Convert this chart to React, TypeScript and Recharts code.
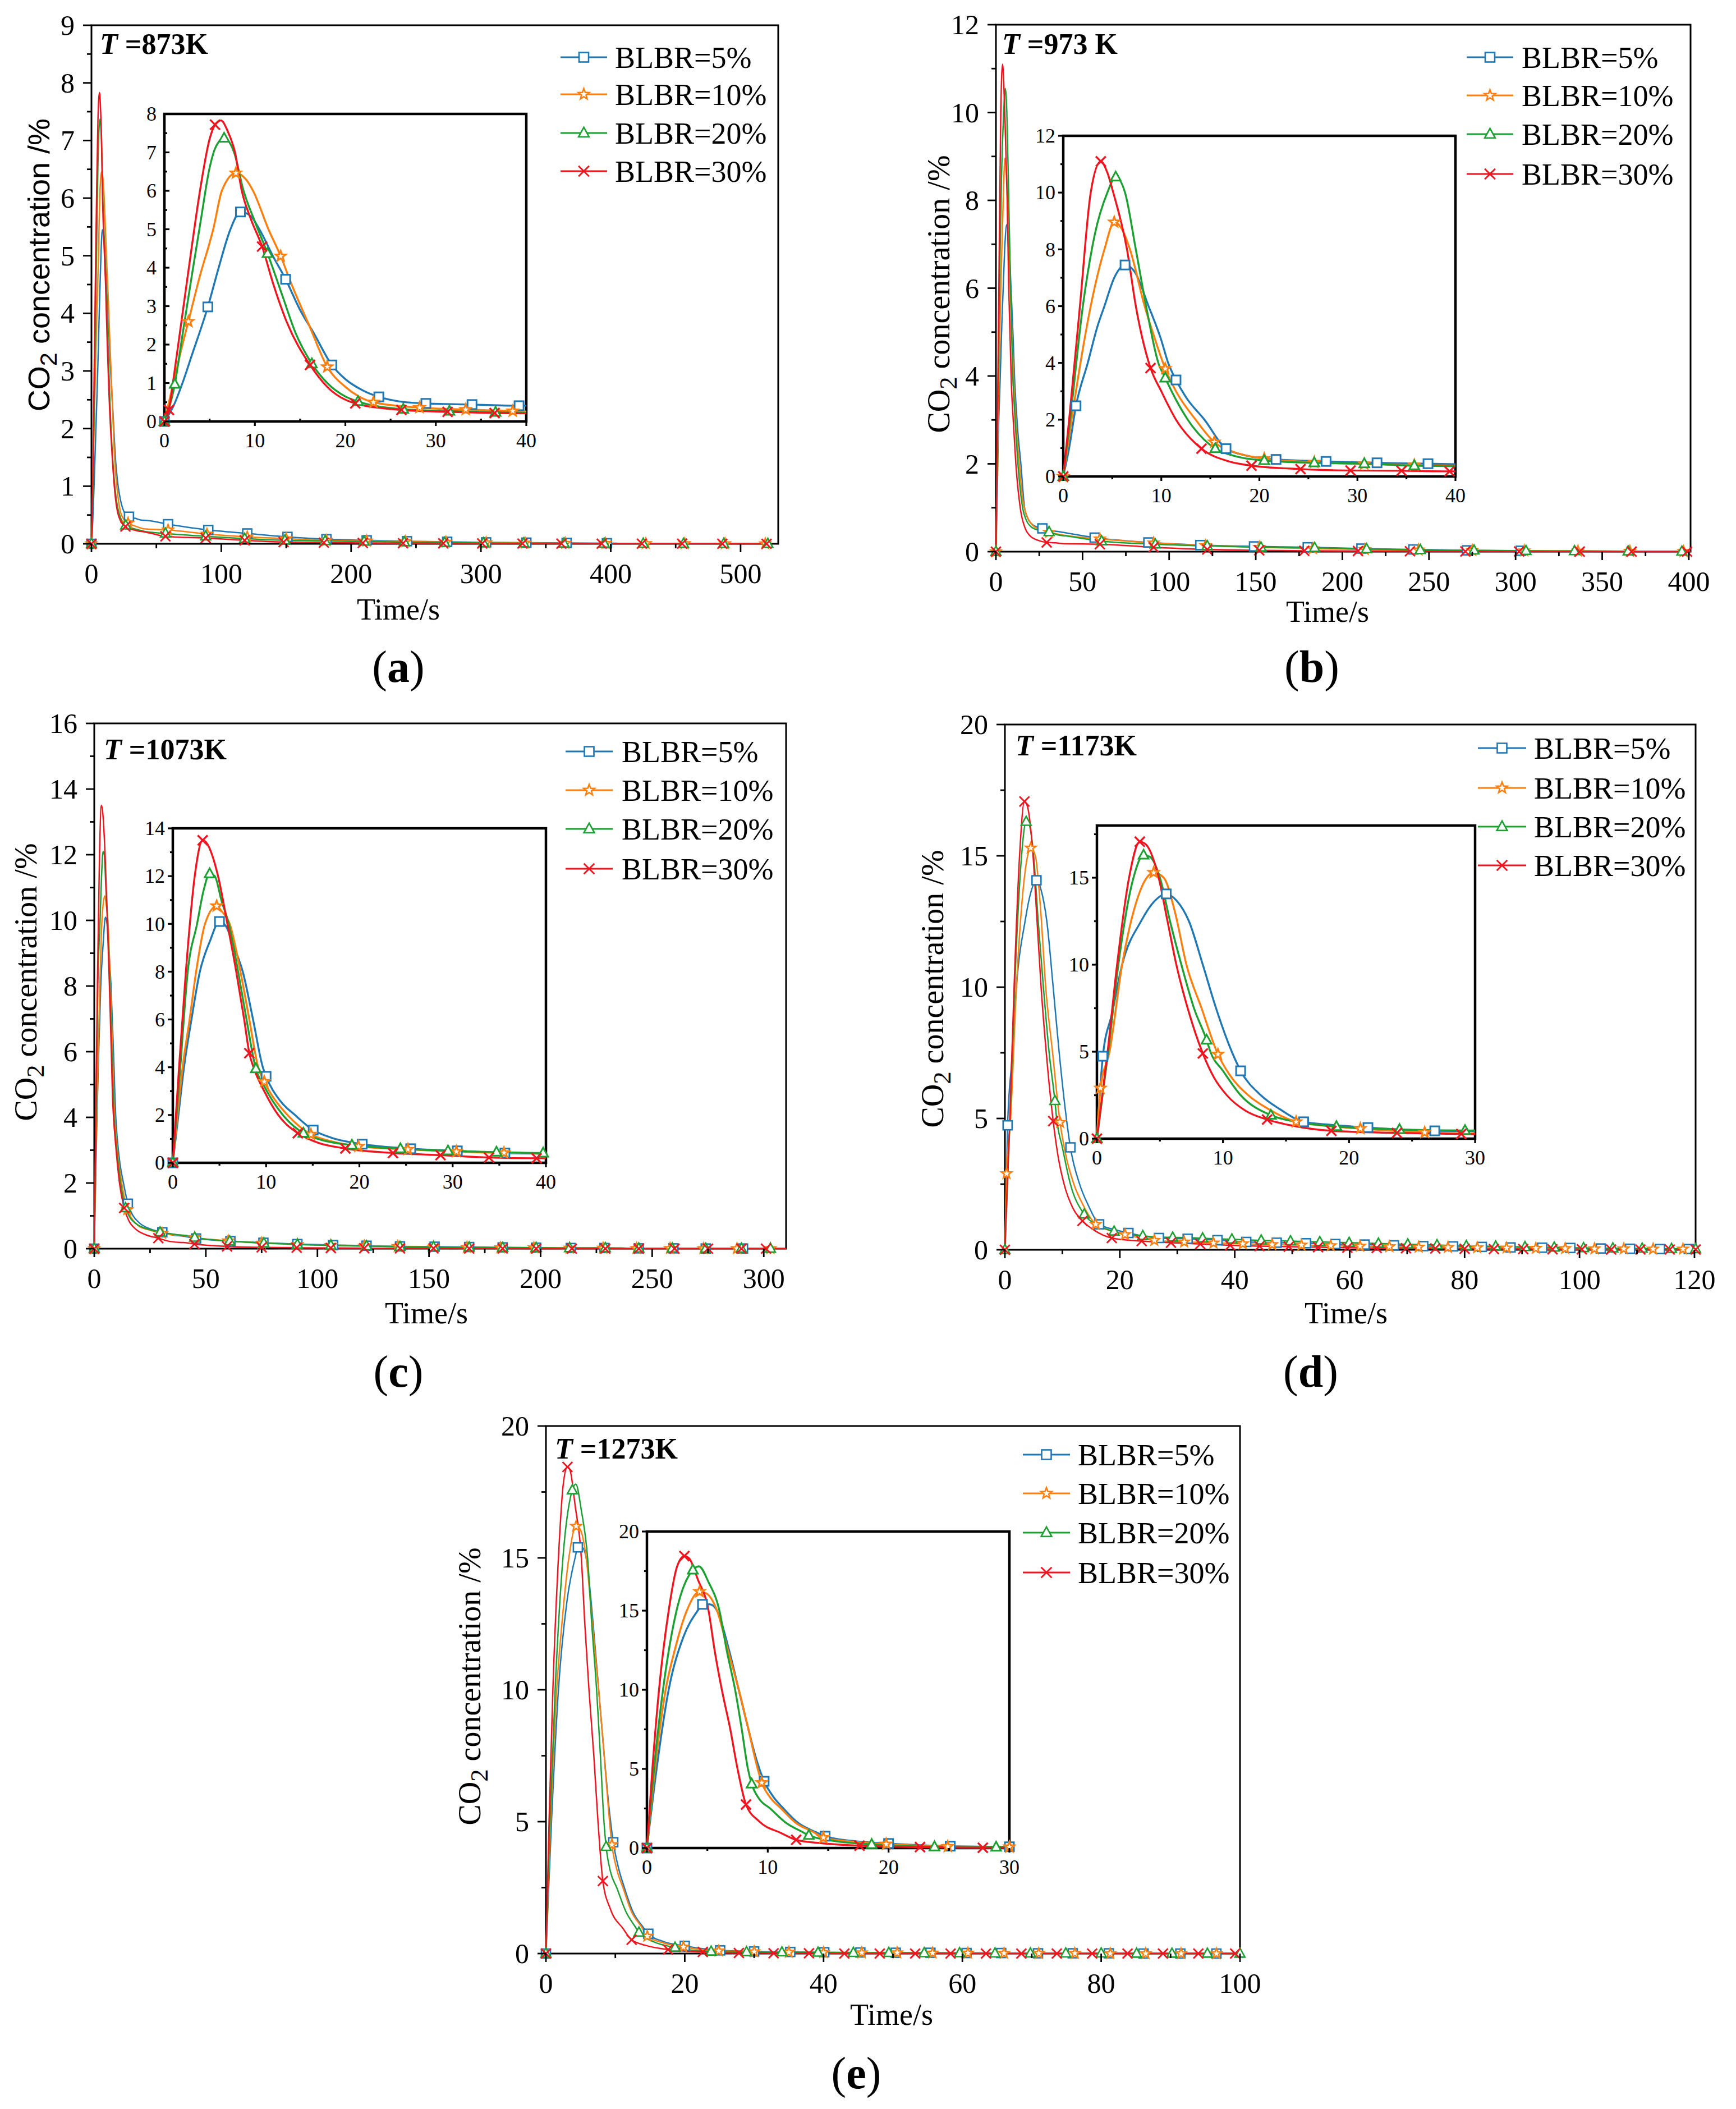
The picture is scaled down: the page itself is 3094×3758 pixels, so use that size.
import React from 'react';
import { LineChart, Line, XAxis, YAxis, ReferenceArea } from 'recharts';

type Pt = [number, number];

const SERIF = '"Liberation Serif", "Times New Roman", serif';
const SANS = '"Liberation Sans", Arial, sans-serif';

const NAMES = ['BLBR=5%', 'BLBR=10%', 'BLBR=20%', 'BLBR=30%'];
const COLORS = ['#1f77b4', '#ff7f0e', '#1ca032', '#f0141e'];
const SHAPES = ['square', 'star', 'triangle', 'cross'];

// ---- (a) T = 873 K ----
const A_5: Pt[] = [[0,0],[1,0.4],[2,1.0],[3,1.7],[4.8,2.98],[6,4.0],[7.3,5.0],[8.4,5.45],[9.5,5.35],[10.5,5.0],[12,4.3],[13.4,3.7],[15,2.9],[16.5,2.3],[18.5,1.47],[20,1.1],[22,0.8],[23.7,0.64],[26,0.52],[28.9,0.47],[34,0.44],[39.2,0.41],[40,0.41],[59,0.34],[90,0.24],[120,0.18],[151,0.12],[181,0.08],[212,0.06],[243,0.045],[274,0.035],[304,0.025],[335,0.02],[366,0.015],[397,0.01],[405,0.01]];
const A_10: Pt[] = [[0,0],[1,1.0],[2,2.0],[2.65,2.6],[4,3.85],[5,4.65],[5.4,5.0],[6.35,6.0],[7.9,6.46],[9,6.3],[9.8,6.0],[11.5,5.0],[12.85,4.3],[14,3.6],[16,2.5],[18,1.42],[20,0.9],[21.5,0.65],[23.1,0.5],[28.2,0.36],[33.3,0.31],[38.5,0.27],[40,0.26],[59,0.24],[89,0.17],[120,0.12],[150,0.09],[181,0.06],[212,0.05],[242,0.04],[273,0.03],[304,0.02],[334,0.015],[365,0.01],[396,0.008],[427,0.005],[457,0.004],[488,0.003],[519,0.002]];
const A_20: Pt[] = [[0,0],[1.15,0.97],[2,2.25],[3,3.75],[4,5.2],[5,6.6],[5.6,7.1],[6.6,7.37],[7.7,7.0],[8.75,6.0],[10,5.2],[11.4,4.37],[13,3.3],[14.5,2.3],[16.3,1.5],[18,1.0],[20,0.65],[21.4,0.52],[26.4,0.32],[31.5,0.27],[36.6,0.24],[40,0.22],[57,0.18],[88,0.13],[118,0.09],[149,0.06],[180,0.05],[210,0.04],[241,0.03],[272,0.02],[302,0.015],[333,0.01],[364,0.008],[395,0.005],[425,0.004],[456,0.003],[487,0.002],[521,0.001]];
const A_30: Pt[] = [[0,0],[0.5,0.3],[1,1.1],[2,2.8],[3,4.5],[4,6.1],[5,7.35],[5.6,7.72],[6.25,7.83],[7,7.55],[7.8,7.0],[8.55,6.0],[9.5,5.3],[10.8,4.55],[12,3.6],[13.5,2.6],[16.1,1.47],[18,0.9],[21.1,0.47],[26.2,0.3],[31.3,0.25],[36.5,0.22],[40,0.21],[57,0.13],[88,0.1],[118,0.06],[148,0.03],[179,0.02],[209,0.015],[240,0.01],[271,0.008],[301,0.006],[332,0.005],[362,0.004],[393,0.003],[424,0.002],[455,0.002],[486,0.001],[520,0]];
const A_INSET_MARKS = [
  [0,4.8,8.4,13.4,18.5,23.7,28.9,34,39.2],
  [2.65,7.9,12.85,18,23.1,28.2,33.3,38.5],
  [0,1.15,6.6,11.4,16.3,21.4,26.4,31.5,36.6],
  [0,0.5,5.6,10.8,16.1,21.1,26.2,31.3,36.5],
];
const A_MAIN_MARKS = [
  [0,28.9,59,90,120,151,181,212,243,274,304,335,366,397],
  [0,28.2,59,89,120,150,181,212,242,273,304,334,365,396,427,457,488,519],
  [0,26.4,57,88,118,149,180,210,241,272,302,333,364,395,425,456,487,521],
  [0,26.2,57,88,118,148,179,209,240,271,301,332,362,393,424,455,486,520],
];
const A_X = [0,100,200,300,400,500];
const A_XM = [50,150,250,350,450];
const A_Y = [0,1,2,3,4,5,6,7,8,9];
const A_YM = [0.5,1.5,2.5,3.5,4.5,5.5,6.5,7.5,8.5];
const A_IY = [0,1,2,3,4,5,6,7,8];
const A_IYM = [0.5,1.5,2.5,3.5,4.5,5.5,6.5,7.5];

// ---- (b) T = 973 K ----
const B_5: Pt[] = [[0,0],[0.6,1.0],[1.3,2.49],[2.5,4.0],[3.5,5.3],[4.2,6.0],[5.2,7.0],[6.3,7.45],[7.3,7.2],[8.7,6.0],[10,4.8],[10.7,4.0],[11.5,3.4],[12.5,2.8],[14.4,2.0],[16.6,0.98],[18.5,0.75],[21.7,0.6],[26.8,0.53],[32,0.48],[37.2,0.45],[40,0.43],[57,0.32],[88,0.21],[118,0.15],[149,0.12],[180,0.1],[211,0.07],[241,0.05],[272,0.03],[303,0.02],[308,0.02]];
const B_10: Pt[] = [[0,0],[0.85,2.0],[2.0,4.5],[2.8,6.0],[4.2,8.0],[5.2,8.96],[6,8.7],[6.8,8.0],[8.3,6.0],[9.2,5.0],[10.4,3.8],[11.5,3.0],[13.5,2.0],[15.4,1.21],[17.5,0.85],[20.5,0.63],[25.6,0.5],[30.7,0.44],[35.8,0.4],[40,0.37],[60,0.29],[91,0.2],[121,0.14],[152,0.1],[183,0.07],[213,0.05],[244,0.04],[275,0.03],[305,0.02],[336,0.015],[366,0.01],[397,0.005],[401,0.005]];
const B_20: Pt[] = [[0,0],[0.7,2.0],[2.0,6.0],[3.2,8.5],[4.5,10.0],[5.35,10.55],[6.3,10.0],[7.4,8.0],[8.45,6.0],[9.7,4.0],[10.4,3.47],[11.5,2.7],[12.7,2.0],[15.5,0.98],[17.5,0.72],[20.5,0.56],[25.6,0.48],[30.7,0.45],[35.8,0.38],[40,0.36],[61,0.24],[92,0.17],[122,0.13],[153,0.1],[184,0.09],[214,0.06],[245,0.04],[276,0.03],[306,0.02],[334,0.015],[365,0.01],[396,0.005],[401,0.005]];
const B_30: Pt[] = [[0,0],[0.6,2.0],[1.7,6.0],[2.8,10.0],[3.83,11.1],[4.5,10.7],[5.1,10.0],[6.5,8.0],[7.4,6.0],[8.9,3.82],[10,3.0],[11.5,2.0],[14.1,0.98],[17,0.52],[19.2,0.38],[24.2,0.26],[29.3,0.21],[34.5,0.2],[39.4,0.18],[40,0.18],[60,0.17],[91,0.1],[122,0.05],[152,0.03],[178,0.02],[209,0.015],[239,0.01],[271,0.005],[302,0.003],[337,0.002],[367,0.001],[399,0],[401,0]];
const B_INSET_MARKS = [
  [1.3,6.3,11.5,16.6,21.7,26.8,32,37.2],
  [0,5.2,10.4,15.4,20.5,25.6,30.7,35.8],
  [0,5.35,10.4,15.5,20.5,25.6,30.7,35.8],
  [0,3.83,8.9,14.1,19.2,24.2,29.3,34.5,39.4],
];
const B_MAIN_MARKS = [
  [26.8,57,88,118,149,180,211,241,272,303],
  [0,30.7,60,91,121,152,183,213,244,275,305,336,366,397],
  [0,30.7,61,92,122,153,184,214,245,276,306,334,365,396],
  [0,29.3,60,91,122,152,178,209,239,271,302,337,367,399],
];
const B_X = [0,50,100,150,200,250,300,350,400];
const B_XM = [25,75,125,175,225,275,325,375];
const B_Y = [0,2,4,6,8,10,12];
const B_YM = [1,3,5,7,9,11];

// ---- (c) T = 1073 K ----
const C_5: Pt[] = [[0,0],[0.6,2.0],[1.2,4.0],[2.0,6.0],[2.9,8.0],[4.0,9.3],[5.0,10.1],[5.7,9.9],[6.6,9.0],[7.5,8.0],[8.6,6.0],[9.65,4.0],[10,3.62],[11.5,2.6],[13.1,2.0],[15.05,1.37],[17,1.05],[20.3,0.78],[25.5,0.59],[30.5,0.5],[35.6,0.41],[40,0.38],[45.6,0.31],[61,0.23],[75.8,0.18],[91,0.14],[107,0.11],[122,0.09],[137,0.07],[152.5,0.06],[168,0.05],[183,0.04],[198,0.03],[213.5,0.02],[228.6,0.02],[244,0.01],[259.5,0.01],[274,0.005],[290.7,0.005]];
const C_10: Pt[] = [[0,0],[0.5,2.0],[1.05,4.0],[1.8,6.0],[2.5,8.0],[3.45,10.0],[4.7,10.75],[5.3,10.5],[6.1,10.0],[7.25,8.0],[8.2,6.0],[9.15,4.0],[9.8,3.4],[10.5,2.9],[12.3,2.0],[14.8,1.19],[17,0.9],[19.9,0.69],[25.2,0.56],[30.4,0.47],[35.5,0.42],[40,0.4],[45,0.34],[60,0.24],[75,0.17],[91,0.13],[106,0.1],[121,0.08],[136,0.07],[152,0.05],[167,0.04],[182,0.03],[197,0.03],[213,0.02],[228,0.02],[243,0.01],[258,0.01],[273,0.005],[288,0.005],[303,0.005]];
const C_20: Pt[] = [[0,0],[0.8,4.0],[1.6,8.0],[2.6,10.0],[3.3,11.4],[3.95,12.1],[4.5,12.0],[5.2,11.0],[6.0,10.0],[7.0,8.0],[7.9,6.0],[8.9,3.94],[9.8,3.2],[11.8,2.0],[14,1.24],[16,0.95],[19.2,0.74],[24.4,0.59],[29.5,0.5],[34.7,0.45],[39.7,0.41],[40,0.41],[45,0.34],[60.7,0.23],[76,0.17],[91,0.13],[106,0.1],[122,0.08],[137,0.06],[152,0.05],[168,0.04],[183,0.03],[198,0.03],[213,0.02],[229,0.02],[244,0.01],[259,0.01],[274,0.005],[290,0.005],[303,0.005]];
const C_30: Pt[] = [[0,0],[0.67,4.0],[1.4,8.0],[2.35,12.0],[3.2,13.5],[3.6,13.4],[4.85,12.0],[5.85,10.0],[6.8,8.0],[7.65,6.0],[8.2,4.59],[8.65,4.0],[9.8,3.0],[11.3,2.0],[13.4,1.24],[15.5,0.85],[18.5,0.6],[23.6,0.41],[28.7,0.32],[33.9,0.22],[39,0.19],[40,0.19],[44.9,0.14],[59.5,0.07],[75,0.04],[90.7,0.03],[106,0.02],[121,0.015],[137,0.01],[152,0.01],[168,0.005],[183,0.005],[198,0],[214,0],[229,0],[244,0],[260,0],[275,0],[290,0],[301,0],[310,0]];
const C_INSET_MARKS = [
  [0,5.0,10,15.05,20.3,25.5,30.5,35.6],
  [4.7,9.8,14.8,19.9,25.2,30.4,35.5],
  [0,3.95,8.9,14,19.2,24.4,29.5,34.7,39.7],
  [0,3.2,8.2,13.4,18.5,23.6,28.7,33.9,39],
];
const C_MAIN_MARKS = [
  [0,15.05,30.5,45.6,61,75.8,91,107,122,137,152.5,168,183,198,213.5,228.6,244,259.5,274,290.7],
  [0,14.8,30.4,45,60,75,91,106,121,136,152,167,182,197,213,228,243,258,273,288,303],
  [0,14,29.5,45,60.7,76,91,106,122,137,152,168,183,198,213,229,244,259,274,290,303],
  [0,13.4,28.7,44.9,59.5,75,90.7,106,121,137,152,168,183,198,214,229,244,260,275,290,301],
];
const C_X = [0,50,100,150,200,250,300];
const C_XM = [25,75,125,175,225,275];
const C_Y = [0,2,4,6,8,10,12,14,16];
const C_YM = [1,3,5,7,9,11,13,15];
const C_IY = [0,2,4,6,8,10,12,14];
const C_IYM = [1,3,5,7,9,11,13];

// ---- (d) T = 1173 K ----
const D_5: Pt[] = [[0,0],[0.47,4.74],[1.2,7.2],[2.0,10.0],[3.5,12.5],[4.5,13.6],[5.5,14.07],[6.3,13.7],[7.3,12.5],[8.4,10.0],[9.45,7.5],[10.7,5.0],[11.4,3.9],[13,2.5],[14.5,1.7],[16.4,0.97],[18.5,0.8],[21.5,0.64],[26.8,0.45],[30,0.43],[31.8,0.42],[37,0.37],[42,0.3],[47.3,0.27],[52.4,0.25],[57.5,0.22],[62.6,0.2],[67.7,0.17],[72.8,0.14],[78,0.13],[83,0.11],[88,0.09],[93.5,0.08],[98.4,0.07],[103.7,0.05],[108.8,0.04],[114,0.03],[119,0.03],[120.2,0.03]];
const D_10: Pt[] = [[0,0],[0.28,2.9],[1.0,5.0],[2.0,10.0],[3.0,13.3],[3.95,15.0],[4.5,15.3],[5.3,15.0],[6.2,13.0],[7.1,10.0],[8.3,7.5],[9.6,4.85],[10.5,3.7],[12,2.5],[13.5,1.75],[15.8,0.97],[18,0.75],[20.9,0.58],[26,0.36],[30,0.31],[31.2,0.3],[36.3,0.26],[41.4,0.23],[46.5,0.2],[51.6,0.18],[56.7,0.16],[61.8,0.14],[66.9,0.12],[72,0.1],[77.1,0.09],[82.2,0.08],[87.3,0.07],[92.4,0.06],[97.5,0.05],[102.6,0.04],[107.7,0.04],[112.8,0.03],[118,0.03],[120.2,0.03]];
const D_20: Pt[] = [[0,0],[0.9,5.0],[1.7,10.0],[2.9,15.0],[3.7,16.3],[4.2,16.2],[5.0,15.0],[5.8,12.5],[6.7,10.0],[7.7,7.5],[8.7,5.67],[9.0,5.0],[10,3.9],[11.4,2.5],[13.8,1.35],[16,0.95],[19,0.7],[24,0.53],[29.2,0.47],[30,0.47],[34.4,0.44],[39.5,0.4],[44.6,0.36],[49.7,0.33],[54.8,0.3],[59.9,0.27],[65,0.24],[70.1,0.21],[75.2,0.18],[80.3,0.15],[85.4,0.13],[90.5,0.11],[95.6,0.09],[100.7,0.07],[105.8,0.06],[110.9,0.05],[116,0.04],[120.2,0.03]];
const D_30: Pt[] = [[0,0],[0.85,5.0],[1.6,10.0],[2.55,15.0],[3.4,17.07],[3.9,16.9],[4.9,15.0],[5.6,12.5],[6.3,10.0],[7.2,7.5],[8.4,4.9],[9.3,3.5],[10.3,2.5],[11.8,1.6],[13.5,1.1],[15.5,0.75],[18.6,0.45],[23.8,0.33],[28.9,0.27],[30,0.26],[34,0.22],[39.2,0.17],[44.3,0.14],[49.4,0.12],[54.5,0.1],[59.6,0.08],[64.7,0.07],[69.8,0.06],[74.9,0.05],[80,0.04],[85.1,0.03],[90.2,0.03],[95.3,0.02],[100.4,0.02],[105.5,0.01],[110.6,0.01],[115.7,0.01],[120.2,0.01]];
const D_MARKS = [
  [0.47,5.5,11.4,16.4,21.5,26.8,31.8,37,42,47.3,52.4,57.5,62.6,67.7,72.8,78,83,88,93.5,98.4,103.7,108.8,114,119],
  [0.28,4.5,9.6,15.8,20.9,26,31.2,36.3,41.4,46.5,51.6,56.7,61.8,66.9,72,77.1,82.2,87.3,92.4,97.5,102.6,107.7,112.8,118],
  [0,3.7,8.7,13.8,19,24,29.2,34.4,39.5,44.6,49.7,54.8,59.9,65,70.1,75.2,80.3,85.4,90.5,95.6,100.7,105.8,110.9,116,120.2],
  [0,3.4,8.4,13.5,18.6,23.8,28.9,34,39.2,44.3,49.4,54.5,59.6,64.7,69.8,74.9,80,85.1,90.2,95.3,100.4,105.5,110.6,115.7,120.2],
];
const D_X = [0,20,40,60,80,100,120];
const D_XM = [10,30,50,70,90,110];
const D_Y = [0,5,10,15,20];
const D_YM = [2.5,7.5,12.5,17.5];
const D_IY = [0,5,10,15];

// ---- (e) T = 1273 K ----
const E_5: Pt[] = [[0,0],[0.8,5.0],[1.8,10.0],[3.0,13.3],[4.2,15.0],[4.6,15.4],[5.2,15.4],[5.8,15.0],[6.8,12.5],[7.6,10.0],[8.4,7.5],[9.1,5.5],[9.7,4.22],[10.5,3.2],[11.3,2.5],[12.5,1.6],[14,1.0],[14.75,0.75],[17,0.45],[20,0.29],[25.1,0.12],[30,0.08],[35.2,0.06],[40.1,0.05],[45.3,0.04],[50.4,0.03],[55.4,0.03],[60.6,0.02],[65.6,0.02],[70.9,0.01],[75.9,0.01],[81.1,0.01],[86.1,0],[91.4,0],[96.6,0],[100,0]];
const E_10: Pt[] = [[0,0],[0.67,5.0],[1.55,10.0],[2.3,12.5],[3.3,15.0],[4.35,16.2],[4.9,16.1],[5.8,15.0],[6.7,12.5],[7.6,10.0],[8.4,7.5],[9.0,5.5],[9.5,4.13],[10.2,3.2],[11.1,2.5],[12.3,1.6],[13.8,1.0],[14.6,0.66],[17,0.4],[19.8,0.25],[24.9,0.1],[30,0.07],[35,0.05],[40,0.04],[45.5,0.03],[50.6,0.03],[55.7,0.02],[60.8,0.02],[66,0.01],[71,0.01],[76.2,0.01],[81.3,0],[86.4,0],[91.5,0],[96.6,0],[100,0]];
const E_20: Pt[] = [[0,0],[0.58,5.0],[1.33,10.0],[2.45,15.0],[3.8,17.57],[4.3,17.8],[5.1,16.8],[6.0,15.0],[6.6,12.5],[7.3,10.0],[7.85,7.5],[8.36,5.0],[8.67,4.05],[9.3,3.1],[10.2,2.5],[11.5,1.6],[12.9,1.0],[13.4,0.8],[15.5,0.45],[18.6,0.23],[23.8,0.08],[28.9,0.06],[30,0.06],[34,0.05],[39.2,0.04],[44.3,0.03],[49.4,0.03],[54.5,0.02],[59.6,0.02],[64.7,0.01],[69.8,0.01],[74.9,0.01],[80,0.01],[85.1,0],[90.2,0],[95.3,0],[100,0]];
const E_30: Pt[] = [[0,0],[0.45,5.0],[1.0,10.0],[1.8,15.0],[2.5,17.8],[3.1,18.45],[3.5,18.3],[4.2,17.0],[5.1,15.0],[5.6,12.5],[6.2,10.0],[6.9,7.5],[7.5,5.0],[8.2,2.75],[9.3,1.68],[11.1,0.95],[12.35,0.52],[14.5,0.3],[17.6,0.15],[22.6,0.06],[27.8,0.02],[30,0.02],[32.8,0.01],[37.9,0.01],[43,0],[48.1,0],[53.2,0],[58.3,0],[63.4,0],[68.5,0],[73.6,0],[78.7,0],[83.8,0],[88.9,0],[94,0],[99.3,0]];
const E_MARKS = [
  [0,4.6,9.7,14.75,20,25.1,30,35.2,40.1,45.3,50.4,55.4,60.6,65.6,70.9,75.9,81.1,86.1,91.4,96.6],
  [4.35,9.5,14.6,19.8,24.9,30,35,40,45.5,50.6,55.7,60.8,66,71,76.2,81.3,86.4,91.5,96.6],
  [0,3.8,8.67,13.4,18.6,23.8,28.9,34,39.2,44.3,49.4,54.5,59.6,64.7,69.8,74.9,80,85.1,90.2,95.3,100],
  [0,3.1,8.2,12.35,17.6,22.6,27.8,32.8,37.9,43,48.1,53.2,58.3,63.4,68.5,73.6,78.7,83.8,88.9,94,99.3],
];
const E_X = [0,20,40,60,80,100];
const E_XM = [10,30,50,70,90];
const E_Y = [0,5,10,15,20];
const E_YM = [2.5,7.5,12.5,17.5];

// inset time axes
const I40_X = [0,10,20,30,40];
const I40_XM = [5,15,25,35];
const I30_X = [0,10,20,30];
const I30_XM = [5,15,25];

type Box = [number, number, number, number];
// tick direction: 1 = outside the plot, -1 = inside
type TickDirs = { xMajor: number; xMinor: number; yMajor: number; yMinor: number };
type AxisSpec = {
  box: Box;
  xMax: number;
  yMax: number;
  xTicks: number[];
  xMinor: number[];
  yTicks: number[];
  yMinor: number[];
  dirs?: TickDirs;
};

const OUT: TickDirs = { xMajor: 1, xMinor: 1, yMajor: 1, yMinor: 1 };

function Marker({ cx, cy, shape, color, size, sw }: any) {
  const h = size / 2;
  if (shape === 'square') {
    return <rect x={cx - h} y={cy - h} width={size} height={size} fill="#fff" stroke={color} strokeWidth={sw} />;
  }
  if (shape === 'triangle') {
    const p = `${cx},${cy - h * 1.2} ${cx - h * 1.1},${cy + h * 0.8} ${cx + h * 1.1},${cy + h * 0.8}`;
    return <polygon points={p} fill="#fff" stroke={color} strokeWidth={sw} />;
  }
  if (shape === 'star') {
    const p: string[] = [];
    for (let i = 0; i < 10; i++) {
      const r = i % 2 === 0 ? h * 1.2 : h * 0.5;
      const a = -Math.PI / 2 + (i * Math.PI) / 5;
      p.push(`${cx + r * Math.cos(a)},${cy + r * Math.sin(a)}`);
    }
    return <polygon points={p.join(' ')} fill="#fff" stroke={color} strokeWidth={sw} />;
  }
  const c = h * 1.1;
  return (
    <g stroke={color} strokeWidth={sw * 1.1}>
      <line x1={cx - c} y1={cy - c} x2={cx + c} y2={cy + c} />
      <line x1={cx - c} y1={cy + c} x2={cx + c} y2={cy - c} />
    </g>
  );
}

function makeDot(marks: number[], shape: string, color: string, size: number, sw: number) {
  return (p: any) => {
    const key = `dot-${p.index}`;
    if (!p.payload || p.cx == null || p.cy == null || !marks.includes(p.payload.t)) return <g key={key} />;
    return (
      <g key={key}>
        <Marker cx={p.cx} cy={p.cy} shape={shape} color={color} size={size} sw={sw} />
      </g>
    );
  };
}

function xTick(majors: number[], dirs: TickDirs, fs: number, labelDy: number, majorLen: number, minorLen: number, sw: number) {
  return (p: any) => {
    const v = p.payload.value;
    const major = majors.includes(v);
    const len = major ? majorLen : minorLen;
    const dir = major ? dirs.xMajor : dirs.xMinor;
    return (
      <g key={`xt-${v}`}>
        <line x1={p.x} x2={p.x} y1={p.y} y2={p.y + dir * len} stroke="#000" strokeWidth={sw} />
        {major && (
          <text x={p.x} y={p.y + labelDy} textAnchor="middle" fontSize={fs} fontFamily={SERIF} fill="#000">
            {v}
          </text>
        )}
      </g>
    );
  };
}

function yTick(majors: number[], dirs: TickDirs, fs: number, gap: number, majorLen: number, minorLen: number, sw: number) {
  return (p: any) => {
    const v = p.payload.value;
    const major = majors.includes(v);
    const len = major ? majorLen : minorLen;
    const dir = major ? dirs.yMajor : dirs.yMinor;
    return (
      <g key={`yt-${v}`}>
        <line x1={p.x} x2={p.x - dir * len} y1={p.y} y2={p.y} stroke="#000" strokeWidth={sw} />
        {major && (
          <text x={p.x - gap} y={p.y + fs * 0.34} textAnchor="end" fontSize={fs} fontFamily={SERIF} fill="#000">
            {v}
          </text>
        )}
      </g>
    );
  };
}

function Plot({ spec, series, marks, inset }: { spec: AxisSpec; series: Pt[][]; marks: number[][]; inset: boolean }) {
  const [l, t, r, b] = spec.box;
  // axes take 1px each (a zero-size axis is not drawn), so margins are 1px smaller
  const m = inset ? { top: 40, right: 50, bottom: 79, left: 109 } : { top: 40, right: 50, bottom: 109, left: 179 };
  const fs = inset ? 36 : 50;
  const lineW = inset ? 3.4 : 2.5;
  const mSize = inset ? 16 : 16;
  const mSw = inset ? 3 : 2.6;
  const tickSw = inset ? 3.2 : 2.8;
  const dirs = spec.dirs ?? OUT;
  return (
    <div style={{ position: 'absolute', left: l - m.left - 1, top: t - m.top }}>
      <LineChart width={r - l + m.left + 1 + m.right} height={b - t + m.top + 1 + m.bottom} margin={m}>
        <XAxis
          type="number"
          dataKey="t"
          domain={[0, spec.xMax]}
          ticks={[...spec.xTicks, ...spec.xMinor]}
          interval={0}
          height={1}
          tickSize={0}
          tickMargin={0}
          axisLine={false}
          tickLine={false}
          tick={inset ? xTick(spec.xTicks, dirs, fs, 46, 8, 5, tickSw) : xTick(spec.xTicks, dirs, fs, 70, 15, 8, tickSw)}
        />
        <YAxis
          type="number"
          domain={[0, spec.yMax]}
          ticks={[...spec.yTicks, ...spec.yMinor]}
          interval={0}
          width={1}
          tickSize={0}
          tickMargin={0}
          axisLine={false}
          tickLine={false}
          tick={inset ? yTick(spec.yTicks, dirs, fs, 14, 9, 5, tickSw) : yTick(spec.yTicks, dirs, fs, 30, 15, 8, tickSw)}
        />
        <ReferenceArea
          x1={0}
          x2={spec.xMax}
          y1={0}
          y2={spec.yMax}
          fill="none"
          stroke="#000"
          strokeWidth={inset ? 4.5 : 3}
          ifOverflow="visible"
        />
        {series.map((pts, i) => (
          <Line
            key={NAMES[i]}
            data={pts.filter(([x]) => x <= spec.xMax).map(([x, v]) => ({ t: x, v }))}
            dataKey="v"
            type="monotone"
            stroke={COLORS[i]}
            strokeWidth={lineW}
            dot={makeDot(marks[i], SHAPES[i], COLORS[i], mSize, mSw)}
            activeDot={false}
            isAnimationActive={false}
          />
        ))}
      </LineChart>
    </div>
  );
}

type PanelCfg = {
  series: Pt[][];
  mainMarks: number[][];
  insetMarks: number[][];
  main: AxisSpec;
  inset: AxisSpec;
  title: string;
  titlePos: [number, number];
  legend: { x1: number; x2: number; textX: number; rows: number[] };
  xLabelPos: [number, number];
  yLabelPos: [number, number];
  yLabelSans: boolean;
  tag: string;
  tagPos: [number, number];
};

const PANELS: PanelCfg[] = [
  {
    series: [A_5, A_10, A_20, A_30],
    mainMarks: A_MAIN_MARKS,
    insetMarks: A_INSET_MARKS,
    main: { box: [163, 45, 1387, 969], xMax: 529, yMax: 9, xTicks: A_X, xMinor: A_XM, yTicks: A_Y, yMinor: A_YM },
    inset: {
      box: [293, 203, 938, 751], xMax: 40, yMax: 8, xTicks: I40_X, xMinor: I40_XM, yTicks: A_IY, yMinor: A_IYM,
      dirs: { xMajor: 1, xMinor: -1, yMajor: -1, yMinor: -1 },
    },
    title: ' =873K',
    titlePos: [178, 79],
    legend: { x1: 999, x2: 1082, textX: 1096, rows: [102, 168, 237, 305] },
    xLabelPos: [710, 1086],
    yLabelPos: [69, 472],
    yLabelSans: true,
    tag: 'a',
    tagPos: [710, 1188],
  },
  {
    series: [B_5, B_10, B_20, B_30],
    mainMarks: B_MAIN_MARKS,
    insetMarks: B_INSET_MARKS,
    main: { box: [1775, 44, 3013, 983], xMax: 401, yMax: 12, xTicks: B_X, xMinor: B_XM, yTicks: B_Y, yMinor: B_YM },
    inset: { box: [1895, 242, 2594, 849], xMax: 40, yMax: 12, xTicks: I40_X, xMinor: I40_XM, yTicks: B_Y, yMinor: B_YM },
    title: ' =973 K',
    titlePos: [1786, 79],
    legend: { x1: 2614, x2: 2697, textX: 2712, rows: [102, 170, 239, 310] },
    xLabelPos: [2366, 1090],
    yLabelPos: [1673, 524],
    yLabelSans: false,
    tag: 'b',
    tagPos: [2338, 1188],
  },
  {
    series: [C_5, C_10, C_20, C_30],
    mainMarks: C_MAIN_MARKS,
    insetMarks: C_INSET_MARKS,
    main: { box: [168, 1289, 1401, 2225], xMax: 310, yMax: 16, xTicks: C_X, xMinor: C_XM, yTicks: C_Y, yMinor: C_YM },
    inset: { box: [308, 1476, 973, 2072], xMax: 40, yMax: 14, xTicks: I40_X, xMinor: I40_XM, yTicks: C_IY, yMinor: C_IYM },
    title: ' =1073K',
    titlePos: [185, 1336],
    legend: { x1: 1008, x2: 1092, textX: 1108, rows: [1339, 1408, 1477, 1548] },
    xLabelPos: [760, 2340],
    yLabelPos: [46, 1750],
    yLabelSans: false,
    tag: 'c',
    tagPos: [710, 2444],
  },
  {
    series: [D_5, D_10, D_20, D_30],
    mainMarks: D_MARKS,
    insetMarks: D_MARKS,
    main: { box: [1791, 1291, 3022, 2227], xMax: 120.2, yMax: 20, xTicks: D_X, xMinor: D_XM, yTicks: D_Y, yMinor: D_YM },
    inset: { box: [1955, 1471, 2629, 2029], xMax: 30, yMax: 18, xTicks: I30_X, xMinor: I30_XM, yTicks: D_IY, yMinor: D_YM },
    title: ' =1173K',
    titlePos: [1810, 1329],
    legend: { x1: 2634, x2: 2720, textX: 2734, rows: [1333, 1404, 1473, 1542] },
    xLabelPos: [2399, 2340],
    yLabelPos: [1662, 1762],
    yLabelSans: false,
    tag: 'd',
    tagPos: [2336, 2444],
  },
  {
    series: [E_5, E_10, E_20, E_30],
    mainMarks: E_MARKS,
    insetMarks: E_MARKS,
    main: { box: [973, 2541, 2210, 3481], xMax: 100, yMax: 20, xTicks: E_X, xMinor: E_XM, yTicks: E_Y, yMinor: E_YM },
    inset: { box: [1153, 2729, 1799, 3293], xMax: 30, yMax: 20, xTicks: I30_X, xMinor: I30_XM, yTicks: E_Y, yMinor: E_YM },
    title: ' =1273K',
    titlePos: [989, 2582],
    legend: { x1: 1823, x2: 1907, textX: 1921, rows: [2592, 2661, 2731, 2802] },
    xLabelPos: [1589, 3590],
    yLabelPos: [837, 3005],
    yLabelSans: false,
    tag: 'e',
    tagPos: [1526, 3694],
  },
];

function Panel({ cfg }: { cfg: PanelCfg }) {
  const centered = (pos: [number, number]): React.CSSProperties => ({
    position: 'absolute',
    left: pos[0],
    top: pos[1],
    transform: 'translate(-50%, -50%)',
    whiteSpace: 'nowrap',
    lineHeight: 1,
  });
  return (
    <>
      <Plot spec={cfg.main} series={cfg.series} marks={cfg.mainMarks} inset={false} />
      <Plot spec={cfg.inset} series={cfg.series} marks={cfg.insetMarks} inset={true} />
      <div
        style={{
          position: 'absolute',
          left: cfg.titlePos[0],
          top: cfg.titlePos[1],
          transform: 'translateY(-50%)',
          fontFamily: SERIF,
          fontWeight: 'bold',
          fontSize: 52,
          lineHeight: 1,
          whiteSpace: 'nowrap',
        }}
      >
        <i>T</i>
        {cfg.title}
      </div>
      <div style={{ ...centered(cfg.xLabelPos), fontFamily: SERIF, fontSize: 54 }}>Time/s</div>
      <div
        style={{
          ...centered(cfg.yLabelPos),
          transform: 'translate(-50%, -50%) rotate(-90deg)',
          fontFamily: cfg.yLabelSans ? SANS : SERIF,
          fontSize: cfg.yLabelSans ? 54 : 56,
        }}
      >
        CO<span style={{ fontSize: '0.8em', position: 'relative', top: '0.3em' }}>2</span> concentration /%
      </div>
      <div style={{ ...centered(cfg.tagPos), fontFamily: SERIF, fontSize: 80 }}>
        (<b>{cfg.tag}</b>)
      </div>
      <svg
        style={{ position: 'absolute', left: 0, top: 0, pointerEvents: 'none' }}
        width={3094}
        height={3758}
      >
        {NAMES.map((name, i) => {
          const y = cfg.legend.rows[i];
          const mx = (cfg.legend.x1 + cfg.legend.x2) / 2;
          return (
            <g key={name}>
              <line x1={cfg.legend.x1} x2={cfg.legend.x2} y1={y} y2={y} stroke={COLORS[i]} strokeWidth={2.8} />
              <Marker cx={mx} cy={y} shape={SHAPES[i]} color={COLORS[i]} size={17} sw={2.6} />
              <text x={cfg.legend.textX} y={y + 19} fontSize={54} fontFamily={SERIF} fill="#000">
                {name}
              </text>
            </g>
          );
        })}
      </svg>
    </>
  );
}

export default function App() {
  return (
    <div
      style={{
        position: 'absolute',
        left: 0,
        top: 0,
        width: 3094,
        height: 3758,
        background: '#fff',
        overflow: 'hidden',
      }}
    >
      {PANELS.map((cfg) => (
        <Panel key={cfg.tag} cfg={cfg} />
      ))}
    </div>
  );
}
